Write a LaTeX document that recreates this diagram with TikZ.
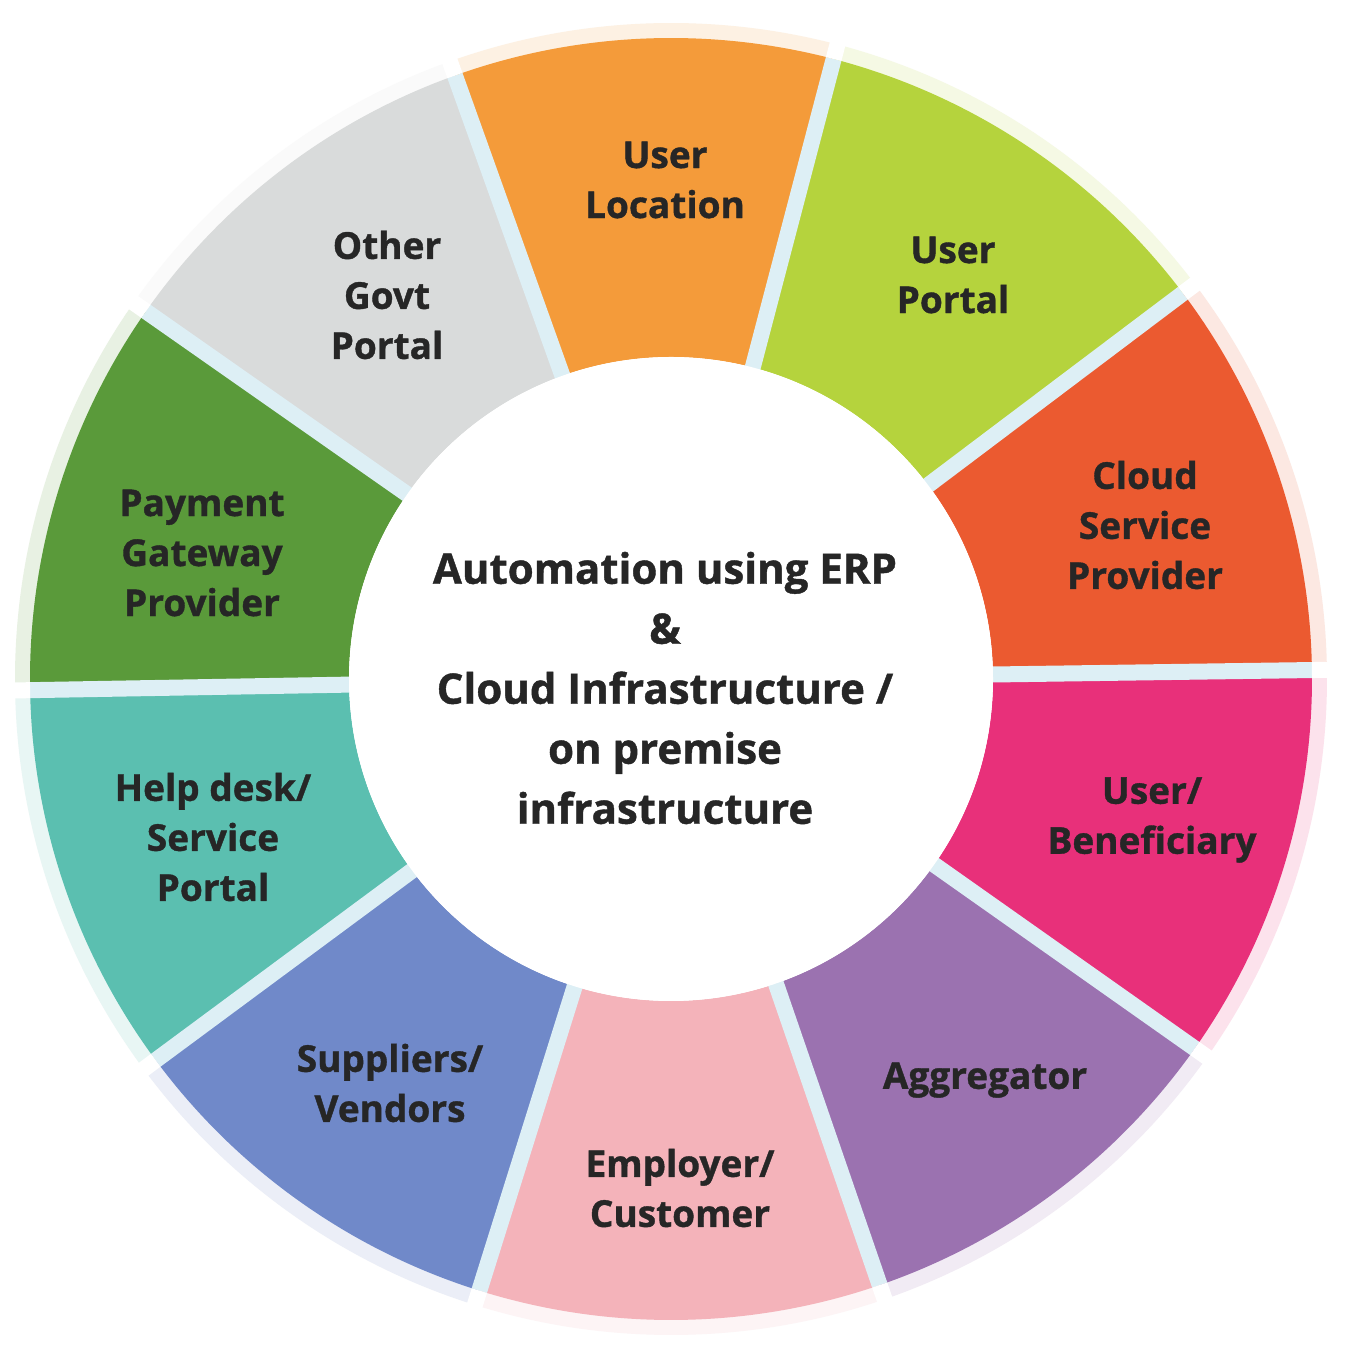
\documentclass[tikz,border=0pt]{standalone}
\usepackage{fontspec}
\setmainfont{Open Sans}[BoldFeatures={FakeBold=1}]
\definecolor{cLoc}{HTML}{F49B3A}
\definecolor{cPortal}{HTML}{B5D33D}
\definecolor{cCloud}{HTML}{EB5A30}
\definecolor{cBen}{HTML}{E8307A}
\definecolor{cAggr}{HTML}{9B72B0}
\definecolor{cEmpl}{HTML}{F4B3BA}
\definecolor{cSupp}{HTML}{7089C9}
\definecolor{cHelp}{HTML}{5BBFB0}
\definecolor{cPay}{HTML}{5A9A3A}
\definecolor{cOther}{HTML}{D9DBDB}
\definecolor{gapblue}{HTML}{DDEFF5}
\definecolor{txtdark}{HTML}{262626}
\tikzset{
  seglabel/.style={align=center, text=txtdark, font=\fontsize{37}{50}\selectfont\bfseries, inner sep=0pt},
  centerlabel/.style={align=center, text=txtdark, font=\fontsize{42}{60}\selectfont\bfseries, inner sep=0pt}
}
\begin{document}
\begin{tikzpicture}[x=1pt,y=1pt]
\useasboundingbox (0,0) rectangle (1353,1356);
\fill[white] (0,0) rectangle (1353,1356);
\begin{scope}[shift={(671,677)}]
  \foreach \a/\b/\c in {0.8/37/cCloud, 37/75.3/cPortal, 75.3/109.7/cLoc, 109.7/145/cOther, 145/181/cPay, 181/216.5/cHelp, 216.5/252.6/cSupp, 252.6/289/cEmpl, 289/324.8/cAggr, 324.8/360.8/cBen}{
    \fill[\c!14] (\a:640pt) arc[start angle=\a, end angle=\b, radius=640pt] -- (\b:656pt) arc[start angle=\b, end angle=\a, radius=656pt] -- cycle;
    \fill[\c] (\a:322pt) arc[start angle=\a, end angle=\b, radius=322pt] -- (\b:641pt) arc[start angle=\b, end angle=\a, radius=641pt] -- cycle;
  }
  \foreach \g in {0.8, 37, 75.3, 109.7, 145, 181, 216.5, 252.6, 289, 324.8}{
    \fill[gapblue, rotate=\g] (300pt,-8pt) rectangle (641pt,8pt);
    \fill[white, rotate=\g] (641pt,-8pt) rectangle (662pt,8pt);
  }
  \fill[white] (0,0) circle[radius=322pt];
\end{scope}
\node[seglabel] (loc) at (665,1176) {User\\Location};
\node[seglabel] (portal) at (953,1081) {User\\Portal};
\node[seglabel] (cloud) at (1145,831) {Cloud\\Service\\Provider};
\node[seglabel] (ben) at (1152,536) {User/\\Beneficiary};
\node[seglabel] (aggr) at (985,276) {Aggregator};
\node[seglabel] (empl) at (680,168) {Employer/\\Customer};
\node[seglabel] (supp) at (390,273) {Suppliers/\\Vendors};
\node[seglabel] (help) at (213,519) {Help desk/\\Service\\Portal};
\node[seglabel] (pay) at (202,803) {Payment\\Gateway\\Provider};
\node[seglabel] (other) at (387,1061) {Other\\Govt\\Portal};
\node[centerlabel] (center) at (665,668) {Automation using ERP\\\&\\Cloud Infrastructure /\\on premise\\infrastructure};
\end{tikzpicture}
\end{document}
